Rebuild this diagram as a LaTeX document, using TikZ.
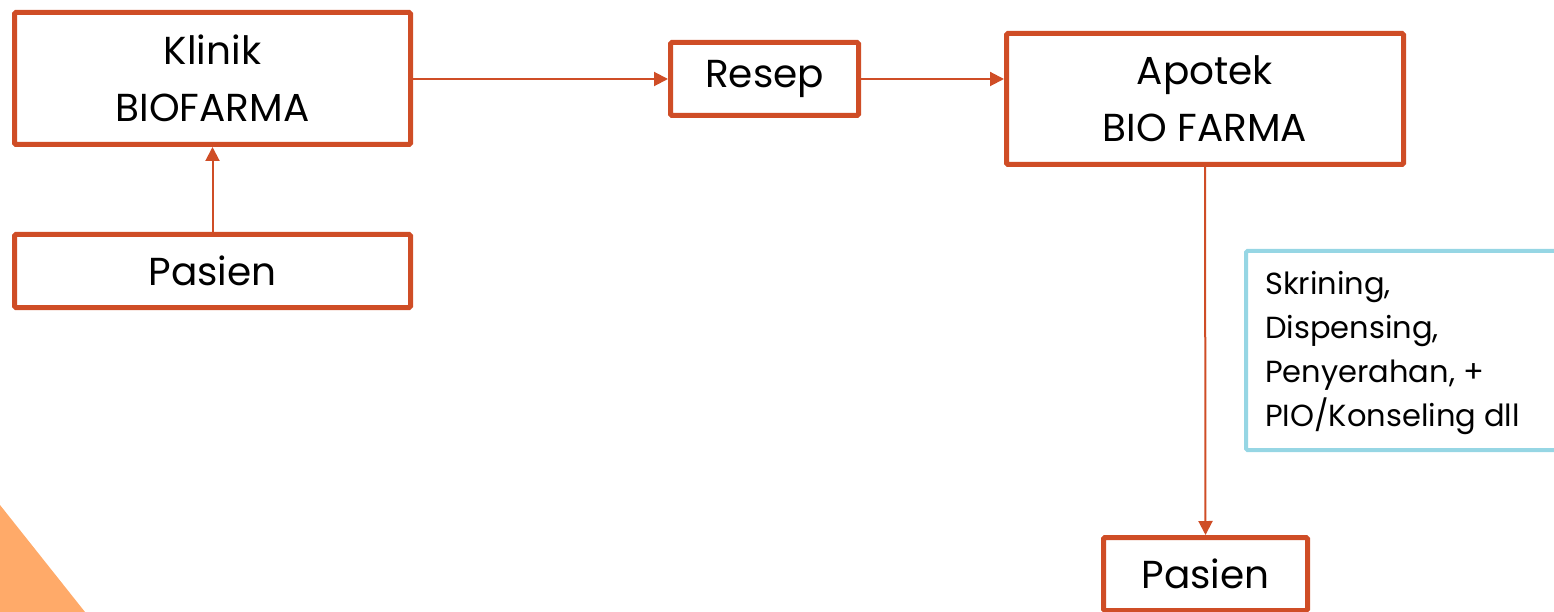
\documentclass[tikz,border=0pt]{standalone}
\usepackage{fontspec}
\setmainfont{Poppins}
\usetikzlibrary{arrows.meta}
\definecolor{boxred}{RGB}{207,77,38}
\definecolor{noteblue}{RGB}{150,214,228}
\definecolor{stripe}{RGB}{255,170,105}
\tikzset{
  flowbox/.style={draw=boxred, line width=5pt, rounded corners=1.5pt, fill=white, align=center,
    font=\fontsize{39}{57}\selectfont, inner sep=0pt},
  conn/.style={draw=boxred, line width=2pt, -{Triangle[length=14pt,width=14pt]}},
  notebox/.style={draw=noteblue, line width=4pt, rounded corners=1.5pt, fill=white, inner sep=0pt}
}
\begin{document}
\begin{tikzpicture}[x=1pt,y=-1pt]
\useasboundingbox (0,0) rectangle (1554,612);
\fill[stripe] (0,505) -- (85,612) -- (0,612) -- cycle;
\node[flowbox, minimum width=396pt, minimum height=132pt] (klinik) at (212.5,78.5) {Klinik\\BIOFARMA};
\node[flowbox, minimum width=396pt, minimum height=73pt] (pasien1) at (212.5,271) {Pasien};
\node[flowbox, minimum width=188pt, minimum height=73pt] (resep) at (764.5,79) {Resep};
\node[flowbox, minimum width=397pt, minimum height=131pt] (apotek) at (1205,99) {Apotek\\BIO FARMA};
\node[flowbox, minimum width=204pt, minimum height=73pt] (pasien2) at (1205.5,574) {Pasien};
\node[notebox, minimum width=400pt, minimum height=199pt] (note) at (1446,350.5) {};
\node[anchor=north west, align=left, inner sep=0pt, font=\fontsize{30.5}{44}\selectfont] (notetext) at (1265,271)
  {Skrining,\\Dispensing,\\Penyerahan, +\\PIO/Konseling dll};
\draw[conn] (pasien1.north) -- (klinik.south);
\draw[conn] (klinik.east |- resep.west) -- (resep.west);
\draw[conn] (resep.east) -- (resep.east -| apotek.west);
\draw[conn] (apotek.south) -- (pasien2.north);
\end{tikzpicture}
\end{document}
